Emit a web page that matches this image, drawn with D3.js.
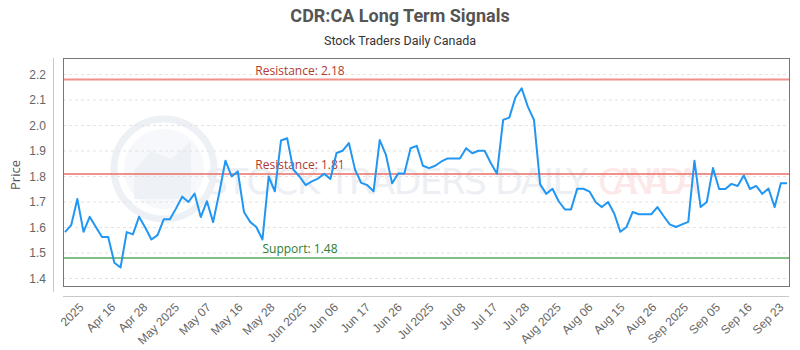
<!DOCTYPE html>
<html>
<head>
<meta charset="utf-8">
<script src="https://cdn.jsdelivr.net/npm/d3@7/dist/d3.min.js"></script>
<style>
  html, body { margin: 0; padding: 0; background: #fff; }
  svg { display: block; }
</style>
</head>
<body>
<div id="chart"></div>
<script>
// ---- data ----
const title = "CDR:CA Long Term Signals";
const subtitle = "Stock Traders Daily Canada";
const yLabel = "Price";

const prices = [
  1.582, 1.609, 1.712, 1.583, 1.642, 1.602, 1.563, 1.563, 1.462, 1.443,
  1.582, 1.573, 1.642, 1.600, 1.553, 1.570, 1.632, 1.632, 1.675, 1.721,
  1.700, 1.733, 1.641, 1.703, 1.621, 1.736, 1.862, 1.800, 1.820, 1.661,
  1.622, 1.602, 1.553, 1.800, 1.742, 1.941, 1.950, 1.827, 1.800, 1.766,
  1.781, 1.792, 1.811, 1.790, 1.892, 1.901, 1.931, 1.827, 1.775, 1.766,
  1.742, 1.943, 1.886, 1.773, 1.812, 1.812, 1.911, 1.920, 1.842, 1.833,
  1.842, 1.859, 1.871, 1.871, 1.871, 1.911, 1.891, 1.901, 1.901, 1.853,
  1.811, 2.022, 2.031, 2.111, 2.146, 2.074, 2.022, 1.769, 1.732, 1.752,
  1.703, 1.671, 1.671, 1.752, 1.752, 1.741, 1.699, 1.680, 1.700, 1.655,
  1.583, 1.602, 1.661, 1.652, 1.652, 1.652, 1.680, 1.645, 1.612, 1.602,
  1.612, 1.622, 1.862, 1.680, 1.700, 1.833, 1.751, 1.751, 1.771, 1.763,
  1.804, 1.751, 1.763, 1.732, 1.753, 1.680, 1.774, 1.774
];

const xTickLabels = [
  "2025", "Apr 16", "Apr 28", "May 2025", "May 07", "May 16", "May 28",
  "Jun 2025", "Jun 06", "Jun 17", "Jun 26", "Jul 2025", "Jul 08", "Jul 17",
  "Jul 28", "Aug 2025", "Aug 06", "Aug 15", "Aug 26", "Sep 2025", "Sep 05",
  "Sep 16", "Sep 23"
];

const yTicks = [1.4, 1.5, 1.6, 1.7, 1.8, 1.9, 2.0, 2.1, 2.2];

const levelNames = ["Resistance", "Resistance", "Support"];
const levelValues = [2.18, 1.81, 1.48];
const levelKinds = ["res", "res", "sup"];

// ---- layout ----
const W = 800, H = 350;
const box = { left: 63, right: 789, top: 58, bottom: 286 };

const svg = d3.select("#chart").append("svg")
  .attr("width", W).attr("height", H)
  .style("font-family", "'Open Sans', 'Noto Sans', sans-serif");

const x = d3.scalePoint()
  .domain(d3.range(prices.length))
  .range([65, 787]);

const y = d3.scaleLinear()
  .domain([1.4, 2.2])
  .range([278.5, 74.5]);

const xt = d3.scalePoint()
  .domain(xTickLabels)
  .range([83, 783]);

// title
svg.append("text")
  .attr("x", 400).attr("y", 22)
  .attr("text-anchor", "middle")
  .style("font-family", "'Liberation Sans Narrow', 'Roboto', sans-serif")
  .style("font-weight", "bold")
  .style("font-size", "18px")
  .attr("fill", "#555")
  .text(title);

svg.append("text")
  .attr("x", 400).attr("y", 45)
  .attr("text-anchor", "middle")
  .style("font-family", "'Liberation Sans Narrow', 'Roboto', sans-serif")
  .style("font-size", "12.5px")
  .attr("fill", "#333")
  .text(subtitle);

// watermark
const wm = svg.append("g").attr("opacity", 0.5);
wm.append("circle")
  .attr("cx", 164).attr("cy", 169).attr("r", 50)
  .attr("fill", "none").attr("stroke", "#dde4ee").attr("stroke-width", 7);
wm.append("circle")
  .attr("cx", 164).attr("cy", 169).attr("r", 40)
  .attr("fill", "#eef2f8");
wm.append("path")
  .attr("d", "M134,199 L134,171 L151,151 L171,159 L191,141 L191,199 Z")
  .attr("fill", "#dfe6f0");
wm.append("text")
  .attr("x", 205).attr("y", 194)
  .attr("textLength", 383)
  .attr("lengthAdjust", "spacing")
  .style("font-family", "'DejaVu Sans', sans-serif")
  .style("font-size", "36px")
  .attr("fill", "#dbe2ec")
  .text("STOCK TRADERS DAILY");
wm.append("text")
  .attr("x", 598).attr("y", 194)
  .attr("textLength", 102)
  .attr("lengthAdjust", "spacing")
  .style("font-family", "'DejaVu Sans', sans-serif")
  .style("font-size", "36px")
  .attr("fill", "#fbd2d2")
  .text("CANADA");

// gridlines
svg.append("g")
  .selectAll("line")
  .data(yTicks)
  .join("line")
  .attr("x1", box.left).attr("x2", box.right)
  .attr("y1", d => y(d)).attr("y2", d => y(d))
  .attr("stroke", "#e2e2e2")
  .attr("stroke-dasharray", "3,3")
  .attr("stroke-width", 1);

// y axis
const yAxis = d3.axisLeft(y).tickValues(yTicks).tickFormat(d3.format(".1f")).tickSize(0).tickPadding(7);
const gy = svg.append("g").attr("transform", "translate(53,0)").call(yAxis);
gy.select(".domain").remove();
gy.selectAll("text")
  .style("font-size", "12px")
  .attr("fill", "#666");
svg.append("line")
  .attr("x1", 53.5).attr("x2", 53.5)
  .attr("y1", box.top).attr("y2", 292)
  .attr("stroke", "#c8c8c8");

svg.append("text")
  .attr("transform", "translate(20,175) rotate(-90)")
  .attr("text-anchor", "middle")
  .style("font-size", "13px")
  .attr("fill", "#555")
  .text(yLabel);

// x axis
const xAxis = d3.axisBottom(xt).tickSize(0).tickPadding(0);
const gx = svg.append("g").attr("transform", "translate(0,296)").call(xAxis);
gx.select(".domain").remove();
gx.selectAll("text")
  .style("font-size", "12px")
  .attr("fill", "#666")
  .attr("text-anchor", "end")
  .attr("x", 0)
  .attr("y", 0)
  .attr("dy", 0)
  .attr("transform", "translate(1,12) rotate(-45)");
svg.append("line")
  .attr("x1", box.left).attr("x2", box.right)
  .attr("y1", 296.5).attr("y2", 296.5)
  .attr("stroke", "#c8c8c8");

// support / resistance
const lvl = svg.append("g");
levelValues.forEach((v, i) => {
  const isRes = levelKinds[i] === "res";
  lvl.append("line")
    .attr("x1", box.left).attr("x2", box.right)
    .attr("y1", y(v)).attr("y2", y(v))
    .attr("stroke", isRes ? "rgba(235,110,100,0.75)" : "rgba(100,175,100,0.8)")
    .attr("stroke-width", 2);
  lvl.append("text")
    .attr("x", 300).attr("y", y(v) - 5)
    .attr("text-anchor", "middle")
    .style("font-size", "12px")
    .attr("fill", isRes ? "#b03a30" : "#2e7d32")
    .text(levelNames[i] + ": " + v.toFixed(2));
});

// price line
svg.append("path")
  .datum(prices)
  .attr("fill", "none")
  .attr("stroke", "#2196f3")
  .attr("stroke-width", 2)
  .attr("stroke-linejoin", "round")
  .attr("d", d3.line().x((d, i) => x(i)).y(d => y(d)));

// plot frame
svg.append("rect")
  .attr("x", box.left + 0.5).attr("y", box.top + 0.5)
  .attr("width", box.right - box.left).attr("height", box.bottom - box.top)
  .attr("fill", "none")
  .attr("stroke", "#777")
  .attr("stroke-width", 1);
</script>
</body>
</html>
